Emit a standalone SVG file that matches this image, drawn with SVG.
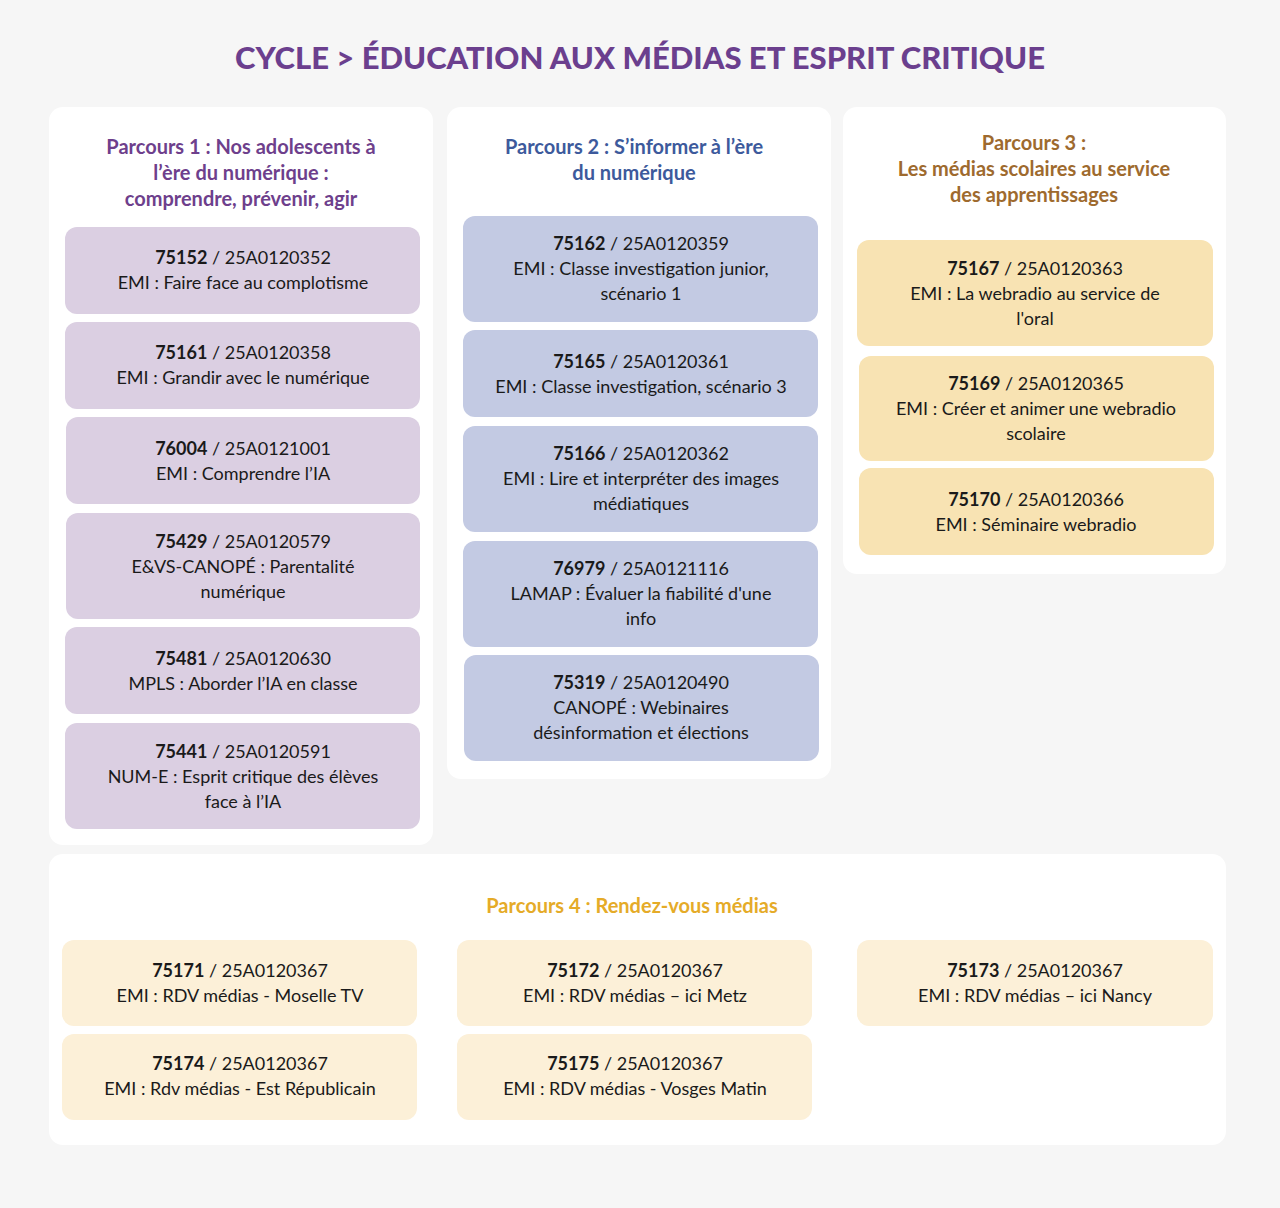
<svg xmlns="http://www.w3.org/2000/svg" width="1280" height="1208" viewBox="0 0 1280 1208">
<style>
text{font-family:"Lato","Noto Sans",sans-serif;font-size:18px;fill:#1a1a1a;text-anchor:middle;dominant-baseline:middle}
.b{font-weight:bold}
.h{font-weight:bold;font-size:20px}
.panel{fill:#ffffff}
.p1{fill:#dbcfe2}.p2{fill:#c3cae3}.p3{fill:#f8e3b3}.p4{fill:#fcf0d8}
</style>
<rect width="1280" height="1208" fill="#f6f6f6"/>
<text x="640" y="61" style="font-size:31px;font-weight:900;fill:#6b3f8e">CYCLE &gt; ÉDUCATION AUX MÉDIAS ET ESPRIT CRITIQUE</text>
<g id="panels">
<rect class="panel" x="49" y="107" width="384" height="738" rx="14"/>
<rect class="panel" x="447" y="107" width="384" height="672" rx="14"/>
<rect class="panel" x="843" y="107" width="383" height="467" rx="14"/>
<rect class="panel" x="49" y="854" width="1177" height="291" rx="14"/>
</g>
<g id="headings">
<text class="h" x="241" y="149" style="fill:#6e3f8c">Parcours 1 : Nos adolescents à</text>
<text class="h" x="241" y="175" style="fill:#6e3f8c">l’ère du numérique :</text>
<text class="h" x="241" y="201" style="fill:#6e3f8c">comprendre, prévenir, agir</text>
<text class="h" x="634" y="149" style="fill:#3d5a9c">Parcours 2 : S’informer à l’ère</text>
<text class="h" x="634" y="175" style="fill:#3d5a9c">du numérique</text>
<text class="h" x="1034" y="145" style="fill:#9e6a2e">Parcours 3 :</text>
<text class="h" x="1034" y="171" style="fill:#9e6a2e">Les médias scolaires au service</text>
<text class="h" x="1034" y="197" style="fill:#9e6a2e">des apprentissages</text>
<text class="h" x="632" y="908" style="fill:#e5ab28">Parcours 4 : Rendez-vous médias</text>
</g>
<g id="p1-1"><rect class="p1" x="65" y="227" width="355" height="87" rx="12"/><text x="243" y="259"><tspan class="b">75152</tspan> / 25A0120352</text><text x="243" y="284">EMI : Faire face au complotisme</text></g>
<g id="p1-2"><rect class="p1" x="65" y="322" width="355" height="87" rx="12"/><text x="243" y="354"><tspan class="b">75161</tspan> / 25A0120358</text><text x="243" y="379">EMI : Grandir avec le numérique</text></g>
<g id="p1-3"><rect class="p1" x="66" y="417" width="354" height="87" rx="12"/><text x="243" y="450"><tspan class="b">76004</tspan> / 25A0121001</text><text x="243" y="475">EMI : Comprendre l’IA</text></g>
<g id="p1-4"><rect class="p1" x="66" y="513" width="354" height="106" rx="12"/><text x="243" y="543"><tspan class="b">75429</tspan> / 25A0120579</text><text x="243" y="568">E&amp;VS-CANOPÉ : Parentalité</text><text x="243" y="593">numérique</text></g>
<g id="p1-5"><rect class="p1" x="65" y="627" width="355" height="87" rx="12"/><text x="243" y="660"><tspan class="b">75481</tspan> / 25A0120630</text><text x="243" y="685">MPLS : Aborder l’IA en classe</text></g>
<g id="p1-6"><rect class="p1" x="65" y="723" width="355" height="106" rx="12"/><text x="243" y="753"><tspan class="b">75441</tspan> / 25A0120591</text><text x="243" y="778">NUM-E : Esprit critique des élèves</text><text x="243" y="803">face à l’IA</text></g>
<g id="p2-1"><rect class="p2" x="463" y="216" width="355" height="106" rx="12"/><text x="641" y="245"><tspan class="b">75162</tspan> / 25A0120359</text><text x="641" y="270">EMI : Classe investigation junior,</text><text x="641" y="295">scénario 1</text></g>
<g id="p2-2"><rect class="p2" x="463" y="330" width="355" height="87" rx="12"/><text x="641" y="363"><tspan class="b">75165</tspan> / 25A0120361</text><text x="641" y="388">EMI : Classe investigation, scénario 3</text></g>
<g id="p2-3"><rect class="p2" x="463" y="426" width="355" height="106" rx="12"/><text x="641" y="455"><tspan class="b">75166</tspan> / 25A0120362</text><text x="641" y="480">EMI : Lire et interpréter des images</text><text x="641" y="505">médiatiques</text></g>
<g id="p2-4"><rect class="p2" x="463" y="541" width="355" height="106" rx="12"/><text x="641" y="570"><tspan class="b">76979</tspan> / 25A0121116</text><text x="641" y="595">LAMAP : Évaluer la fiabilité d'une</text><text x="641" y="620">info</text></g>
<g id="p2-5"><rect class="p2" x="464" y="655" width="355" height="106" rx="12"/><text x="641" y="684"><tspan class="b">75319</tspan> / 25A0120490</text><text x="641" y="709">CANOPÉ : Webinaires</text><text x="641" y="734">désinformation et élections</text></g>
<g id="p3-1"><rect class="p3" x="857" y="240" width="356" height="106" rx="12"/><text x="1035" y="270"><tspan class="b">75167</tspan> / 25A0120363</text><text x="1035" y="295">EMI : La webradio au service de</text><text x="1035" y="320">l'oral</text></g>
<g id="p3-2"><rect class="p3" x="859" y="356" width="355" height="105" rx="12"/><text x="1036" y="385"><tspan class="b">75169</tspan> / 25A0120365</text><text x="1036" y="410">EMI : Créer et animer une webradio</text><text x="1036" y="435">scolaire</text></g>
<g id="p3-3"><rect class="p3" x="859" y="468" width="355" height="87" rx="12"/><text x="1036" y="501"><tspan class="b">75170</tspan> / 25A0120366</text><text x="1036" y="526">EMI : Séminaire webradio</text></g>
<g id="p4-1"><rect class="p4" x="62" y="940" width="355" height="86" rx="12"/><text x="240" y="972"><tspan class="b">75171</tspan> / 25A0120367</text><text x="240" y="997">EMI : RDV médias - Moselle TV</text></g>
<g id="p4-2"><rect class="p4" x="457" y="940" width="355" height="86" rx="12"/><text x="635" y="972"><tspan class="b">75172</tspan> / 25A0120367</text><text x="635" y="997">EMI : RDV médias – ici Metz</text></g>
<g id="p4-3"><rect class="p4" x="857" y="940" width="356" height="86" rx="12"/><text x="1035" y="972"><tspan class="b">75173</tspan> / 25A0120367</text><text x="1035" y="997">EMI : RDV médias – ici Nancy</text></g>
<g id="p4-4"><rect class="p4" x="62" y="1034" width="355" height="86" rx="12"/><text x="240" y="1065"><tspan class="b">75174</tspan> / 25A0120367</text><text x="240" y="1090">EMI : Rdv médias - Est Républicain</text></g>
<g id="p4-5"><rect class="p4" x="457" y="1034" width="355" height="86" rx="12"/><text x="635" y="1065"><tspan class="b">75175</tspan> / 25A0120367</text><text x="635" y="1090">EMI : RDV médias - Vosges Matin</text></g>
<g id="connectors"/>
</svg>
